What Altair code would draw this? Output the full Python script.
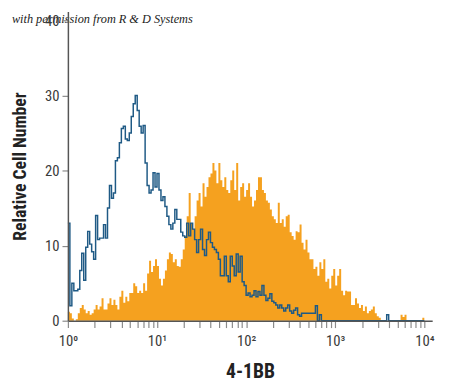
import altair as alt
import numpy as np
import pandas as pd

# Histogram counts, 180 channels spanning 10^0 .. 10^4 (log-spaced)
blue_counts = [
    13, 2, 5, 4, 4, 4.2, 6.7, 9, 5.4, 9.8,
    11.9, 10.2, 9.2, 8.2, 14, 10.8, 11, 11, 12.8, 11,
    15, 18, 16.3, 17, 21.3, 21.7, 23.7, 25.6, 25.9, 24.2,
    24, 25, 27.2, 28.9, 30, 28, 25.9, 25, 26, 21,
    18, 17, 17.4, 19.7, 17.8, 19.6, 17.4, 16, 16.5, 15.2,
    13.9, 12.8, 12.2, 13, 14.8, 13.5, 13.5, 11.8, 11.3, 11.1,
    13, 11.3, 13, 12.2, 10.8, 9.1, 10.8, 12.2, 9.5, 8.7,
    10.8, 11.8, 10.4, 9.8, 9.5, 9.1, 8.2, 6, 6, 8.6,
    6, 5.2, 8.6, 7.3, 6, 8.9, 6.5, 8.6, 5.2, 4.7,
    3.4, 3.7, 3.2, 3.4, 4, 3.2, 3.9, 3.4, 4.7, 3.4,
    2.7, 3, 3.6, 2.6, 2.4, 2.1, 1.7, 2.1, 1.7, 1.3,
    1.7, 2.1, 1.3, 1.0, 1.4, 1.7, 0.8, 0.6, 1, 1,
    1, 1, 1, 1, 1, 2, 0, 0.8, 0, 0,
    0, 0, 0, 0, 0, 0, 0, 0, 0, 0,
    0, 0, 0, 0, 0, 0, 0, 0, 0, 0,
    0, 0, 0, 0, 0, 0, 0, 0, 0, 0,
    0, 0.8, 0, 0, 0, 0, 0, 0, 0, 0,
    0, 0, 0, 0, 0, 0, 0, 0, 0, 0,
]

orange_counts = [
    1.2, 1, 0.3, 0, 0.2, 1, 1.7, 2.1, 1.5, 1,
    1.3, 0.8, 1, 1.5, 2.1, 1.5, 1.9, 3, 1.5, 1.5,
    2.3, 3, 2.1, 2.8, 2.1, 1.5, 3.2, 4, 2.4, 3.2,
    2.6, 3.7, 3.7, 5, 4.6, 3.7, 4, 3.7, 5, 4,
    6.3, 8, 6.5, 7.3, 8.2, 7.3, 5.6, 4.7, 5.6, 6.7,
    8.2, 9.1, 8.9, 7.8, 8.2, 7.3, 7.2, 8.2, 9.5, 11.3,
    13.9, 17, 13, 12.2, 13.9, 16, 17, 15.2, 18.3, 16.5,
    17.8, 19.1, 19.6, 21, 20, 18.3, 21, 18.7, 17.8, 19.1,
    17.4, 17, 18.7, 20, 17.4, 21, 16, 17.8, 18.3, 16.5,
    17.4, 18.3, 16.5, 15.2, 16, 17.4, 19.1, 19.1, 17.4, 17,
    16, 15.7, 14.8, 13.9, 13.5, 13, 15.7, 13, 13.5, 12.5,
    13.9, 14.1, 11.8, 11.3, 10.8, 11.9, 11.8, 12.8, 10.4, 9.5,
    10.8, 9.1, 8.2, 8.2, 6.9, 7.2, 6, 7.8, 6.9, 8.2,
    5.2, 5.6, 4.3, 6, 6.9, 4.7, 6, 6.9, 4, 3.4,
    4, 3.9, 3.9, 2.1, 2.1, 3, 2.3, 1.7, 2.1, 1.3,
    1.9, 1, 1.3, 1.5, 1.9, 1, 0.6, 0.4, 0, 0,
    0, 0, 0, 0, 0, 0, 0, 0, 0.8, 0.5,
    0.8, 0, 0, 0, 0, 0, 0, 0, 0, 0.4,
]

decade_ticks = [1, 10, 100, 1000, 10000]
decade_labels = ["10\u2070", "10\u00b9", "10\u00b2", "10\u00b3", "10\u2074"]
y_ticks = [0, 10, 20, 30, 40]
watermark = "with permission from R & D Systems"

n_bins = len(orange_counts)
log_edges = np.linspace(0, 4, n_bins + 1)
edges = 10 ** log_edges

def step_frame(counts):
    vals = list(counts) + [counts[-1]]
    return pd.DataFrame({"x": edges, "count": vals})

df_orange = step_frame(orange_counts)
df_blue = step_frame(blue_counts)

minor_ticks = []
for d in decade_ticks[:-1]:
    minor_ticks += [d * k for k in range(1, 10)]
minor_ticks.append(decade_ticks[-1])

label_expr = " : ".join(
    [f"datum.value == {v} ? '{l}'" for v, l in zip(decade_ticks, decade_labels)]
) + " : ''"

FONT = "Liberation Sans Narrow, Roboto Condensed, DejaVu Sans Condensed, Liberation Sans, sans-serif"

xscale = alt.Scale(type="log", domain=[1, 12250], nice=False)
yscale = alt.Scale(domain=[0, 41.2], nice=False)

xaxis = alt.Axis(
    values=minor_ticks, labelExpr=label_expr, title="4-1BB",
    labelOverlap=False, labelFlush=False, grid=False,
    tickSize=7, tickColor="#8a8a8a", tickWidth=1.2,
    domainColor="#555555", domainWidth=1.5,
    labelFont=FONT, labelFontSize=15, labelColor="#3a3a3a", labelPadding=6,
    titleFont=FONT, titleFontSize=20, titleFontWeight="bold", titleColor="#222222",
    titlePadding=14, zindex=1,
)
yaxis = alt.Axis(
    values=y_ticks, title="Relative Cell Number", grid=False,
    tickSize=6, tickColor="#8a8a8a", tickWidth=1.2,
    domainColor="#555555", domainWidth=1.5,
    labelFont=FONT, labelFontSize=15, labelColor="#3a3a3a", labelPadding=3,
    titleFont=FONT, titleFontSize=18, titleFontWeight="bold", titleColor="#222222",
    titlePadding=15, zindex=1,
)

orange = alt.Chart(df_orange).mark_area(
    interpolate="step-after", color="#F5A11F", opacity=1
).encode(
    x=alt.X("x:Q", scale=xscale, axis=xaxis),
    y=alt.Y("count:Q", scale=yscale, axis=yaxis),
)

blue = alt.Chart(df_blue).mark_line(
    interpolate="step-after", color="#1F5A85", strokeWidth=1.5
).encode(
    x=alt.X("x:Q", scale=xscale),
    y=alt.Y("count:Q", scale=yscale),
)

wm = alt.Chart(pd.DataFrame({"t": [watermark]})).mark_text(
    font="Liberation Serif, DejaVu Serif, serif", fontStyle="italic",
    fontSize=12.5, color="#222222", align="left", baseline="alphabetic",
).encode(text="t:N", x=alt.value(-57), y=alt.value(12))

chart = alt.layer(orange, blue, wm).properties(
    width=371, height=315,
    autosize=alt.AutoSizeParams(type="none"),
    padding={"left": 61, "top": 0, "right": 10, "bottom": 62},
).configure_view(stroke=None)

chart.save("out.html", embed_options={"renderer": "svg", "actions": False})
